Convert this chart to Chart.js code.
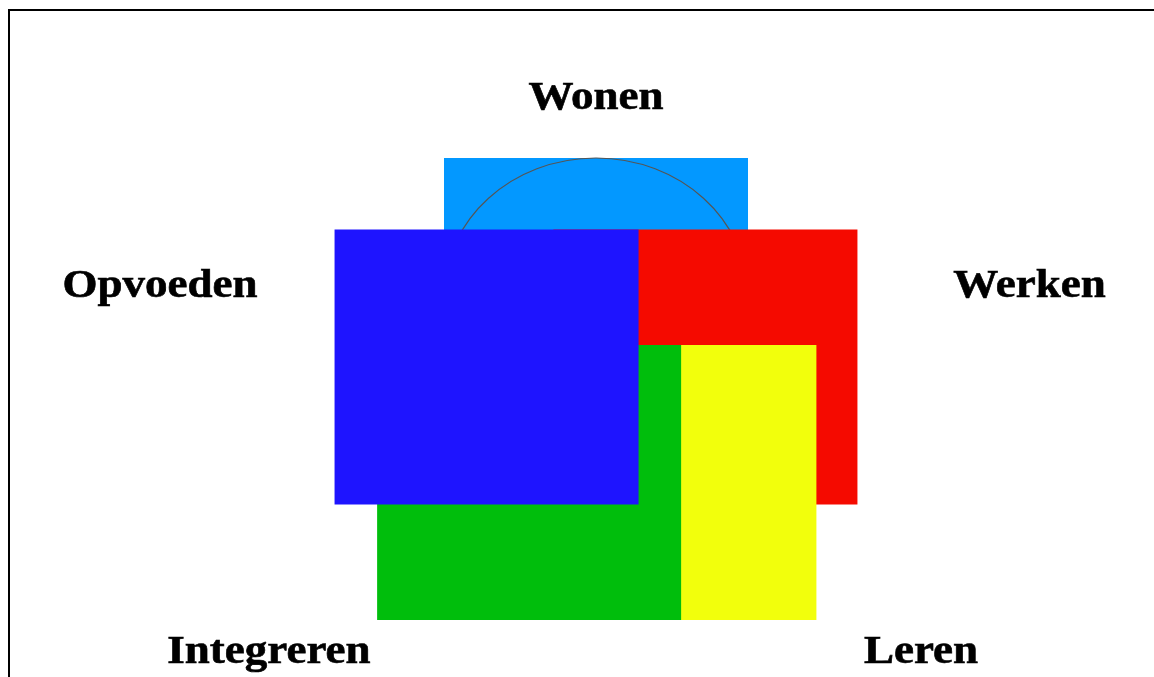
<!DOCTYPE html>
<html>
<head>
<meta charset="utf-8">
<script src="https://cdn.jsdelivr.net/npm/chart.js@4.4.1/dist/chart.umd.min.js"></script>
<style>
    html, body { margin: 0; padding: 0; background: #fff; overflow: hidden; }
    #kader {
        position: absolute; left: 8px; top: 9px;
        width: 1300px; height: 800px;
        border-top: 2px solid #000; border-left: 2px solid #000;
    }
    #grafiek { position: absolute; left: 0; top: 0; }
</style>
</head>
<body>
<div id="kader"></div>
<canvas id="grafiek" width="1154" height="677"></canvas>
<script>
// Categories and the extent of each block (value units)
const categorieen = ['Wonen', 'Werken', 'Leren', 'Integreren', 'Opvoeden'];
const xVan = [-50, -14, -27.5, -72, -86];
const xTot = [50, 86, 72.5, 28, 14];
const yVan = [-12, -38, -80, -80, -38];
const yTot = [88, 62, 20, 20, 62];

// Outline of the Wonen ring (value units)
const ringX = [0, -50, 0, 50, 0];
const ringY = [-12, 38, 88, 38, -12];

// Styles and layout
const kleuren = ['#0398ff', '#f50a00', '#f2ff0c', '#00be0c', '#1e14ff'];
const labelX = [0, 142.6, 106.9, -107.6, -143.4];
const labelY = [105.8, 37.5, -95.6, -95.6, 37.5];

// Function to build a block dataset
const maakBlok = (i) => ({
    label: categorieen[i],
    data: [
        { x: xVan[i], y: yVan[i] },
        { x: xTot[i], y: yVan[i] },
        { x: xTot[i], y: yTot[i] },
        { x: xVan[i], y: yTot[i] }
    ],
    backgroundColor: kleuren[i],
    borderColor: 'transparent',
    borderWidth: 0,
    pointRadius: 0,
    fill: 'shape',
    tension: 0
});

// Plugin for the category labels
const labelsPlugin = {
    id: 'labels',
    afterDraw: (chart) => {
        const ctx = chart.ctx;
        const sx = chart.scales.x;
        const sy = chart.scales.y;
        ctx.save();
        ctx.fillStyle = '#000';
        ctx.strokeStyle = '#000';
        ctx.lineWidth = 0.7;
        ctx.font = 'bold 45px "Liberation Serif", "Times New Roman", serif';
        ctx.textAlign = 'center';
        ctx.textBaseline = 'alphabetic';
        categorieen.forEach((naam, i) => {
            const px = sx.getPixelForValue(labelX[i]);
            const py = sy.getPixelForValue(labelY[i]);
            ctx.save();
            ctx.translate(px, py);
            ctx.scale(1, 0.87);
            ctx.fillText(naam, 0, 0);
            ctx.strokeText(naam, 0, 0);
            ctx.restore();
        });
        ctx.restore();
    }
};

// Top to bottom: Opvoeden, Integreren, Leren, Werken, ring, Wonen
const datasets = [
    maakBlok(4),
    maakBlok(3),
    maakBlok(2),
    maakBlok(1),
    {
        label: 'ring',
        data: ringX.map((x, i) => ({ x: x, y: ringY[i] })),
        borderColor: 'rgba(85, 85, 85)',
        borderWidth: 1.2,
        pointRadius: 0,
        fill: false,
        tension: 0.552
    },
    maakBlok(0)
];

const ctx = document.getElementById('grafiek').getContext('2d');
new Chart(ctx, {
    type: 'line',
    data: { datasets: datasets },
    options: {
        responsive: false,
        animation: false,
        events: [],
        layout: { padding: 0 },
        plugins: {
            legend: { display: false },
            tooltip: { enabled: false }
        },
        scales: {
            x: { type: 'linear', display: false, min: -196.05, max: 183.55 },
            y: { type: 'linear', display: false, min: -100.73, max: 145.45 }
        }
    },
    plugins: [labelsPlugin]
});
</script>
</body>
</html>
